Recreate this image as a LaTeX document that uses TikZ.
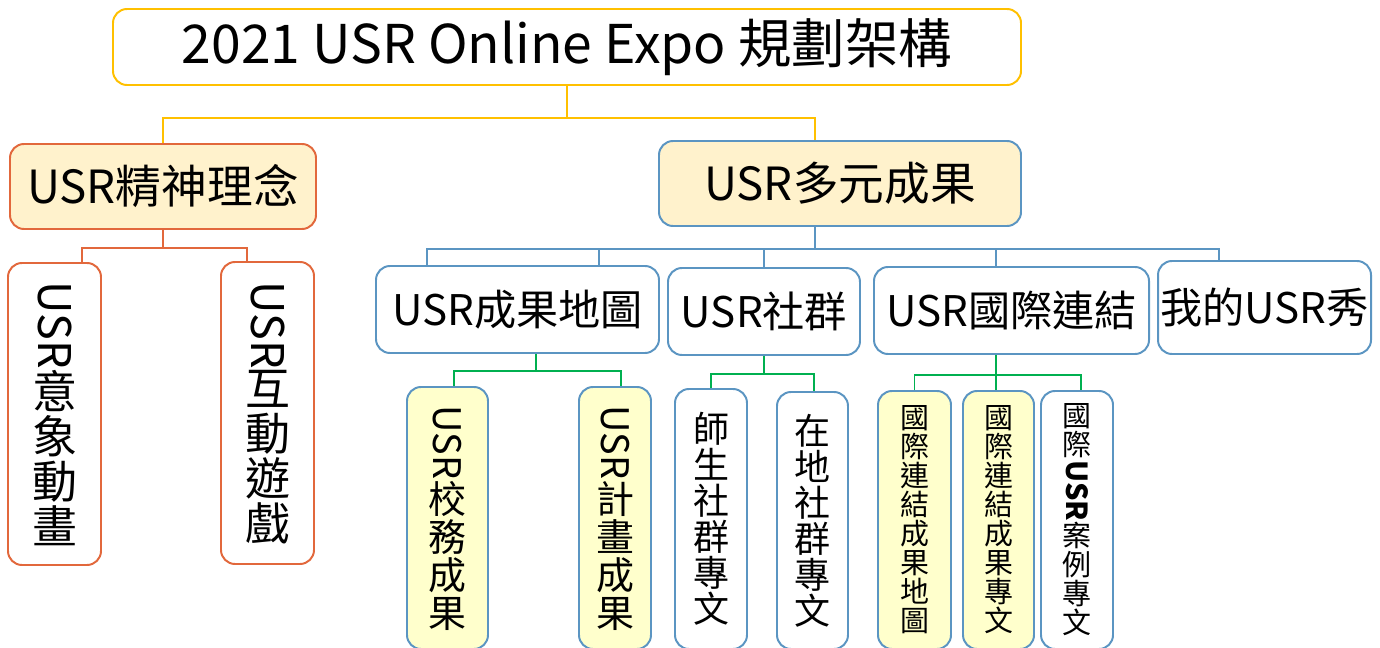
\documentclass[tikz,border=0pt]{standalone}
\usepackage{fontspec}
\setmainfont{Noto Sans CJK TC}
\usepackage{graphicx}
\usetikzlibrary{calc}
\definecolor{expoyellow}{HTML}{FFC000}
\definecolor{exporange}{HTML}{E2683C}
\definecolor{expoblue}{HTML}{5B95C2}
\definecolor{expogreen}{HTML}{00B050}
\definecolor{creamfill}{HTML}{FFF2CC}
\definecolor{palefill}{HTML}{FFFFCC}
\newcommand{\px}{0.025cm}
\newcommand{\vusr}[1][]{\raisebox{0.85em}{\rotatebox{-90}{#1USR}}}

\begin{document}
\begin{tikzpicture}[x=\px,y=-\px,
  every node/.style={inner sep=0pt,rounded corners=3.5mm,line width=1.4pt,align=center},
  sz/.style 2 args={minimum width=#1*\px,minimum height=#2*\px},
  fs/.style={font=\fontsize{#1}{#1}\selectfont},
  topbox/.style={draw=expoyellow,fill=white,fs=38},
  redbox/.style={draw=exporange,fill=white},
  bluebox/.style={draw=expoblue,fill=white},
  yline/.style={draw=expoyellow,line width=1.4pt},
  rline/.style={draw=exporange,line width=1.4pt},
  bline/.style={draw=expoblue,line width=1.4pt},
  gline/.style={draw=expogreen,line width=1.4pt}]
  \useasboundingbox (0,0) rectangle (1380,648);

  \node[topbox,sz={908}{76}] (title) at (567,47) {2021 USR Online Expo 規劃架構};

  \node[redbox,fill=creamfill,sz={306}{85},fs=32.5] (spirit) at (163,186.5) {USR精神理念};
  \node[bluebox,fill=creamfill,sz={362}{85},fs=32.5] (result) at (840,183.5) {USR多元成果};

  \node[redbox,sz={93}{302},fs=32] (anim) at (54.5,414) {\vusr\\意\\象\\動\\畫};
  \node[redbox,sz={93}{302},fs=32] (game) at (267.5,413) {\vusr\\互\\動\\遊\\戲};

  \node[bluebox,sz={283}{87},fs=30] (map) at (517.5,309.5) {USR成果地圖};
  \node[bluebox,sz={192}{87},fs=30] (community) at (764,311.5) {USR社群};
  \node[bluebox,sz={275}{87},fs=30] (intl) at (1011.5,310.5) {USR國際連結};
  \node[bluebox,sz={213}{93},fs=30] (show) at (1264.5,307.5) {我的USR秀};

  \node[bluebox,fill=palefill,sz={81}{262},fs=27] (campus) at (447.5,518) {\vusr\\校\\務\\成\\果};
  \node[bluebox,fill=palefill,sz={72}{262},fs=27] (plan) at (615,518) {\vusr\\計\\畫\\成\\果};
  \node[bluebox,sz={72}{260},fs=25.6] (teacher) at (711,519) {師\\生\\社\\群\\專\\文};
  \node[bluebox,sz={71}{257},fs=25.6] (local) at (812.5,520.5) {在\\地\\社\\群\\專\\文};
  \node[bluebox,fill=palefill,sz={73}{258},fs=20.6] (intlmap) at (914.5,520) {國\\際\\連\\結\\成\\果\\地\\圖};
  \node[bluebox,fill=palefill,sz={71}{258},fs=20.6] (intlart) at (998.5,520) {國\\際\\連\\結\\成\\果\\專\\文};
  \node[bluebox,sz={72}{258},fs=20.6] (case) at (1077,520) {國\\際\\\vusr[\bfseries]\\案\\例\\專\\文};

  % yellow level
  \draw[yline] (title.south) -- ++(0,32);
  \draw[yline] (spirit.north) |- ($(title.south)+(0,32)$) -| ($(result.north)+(-25,0)$);

  % red level
  \draw[rline] (spirit.south) -- ++(0,18);
  \draw[rline] ($(anim.north)+(27.5,0)$) |- ($(spirit.south)+(0,18)$) -| ($(game.north)+(-20.5,0)$);

  % blue level
  \draw[bline] ($(result.south)+(-25,0)$) -- ++(0,22);
  \draw[bline] ($(map.north)+(-90.5,0)$) |- ($(result.south)+(-25,22)$) -| ($(show.north)+(-45.5,0)$);
  \draw[bline] ($(map.north)+(81.5,0)$) |- ($(result.south)+(-25,22)$);
  \draw[bline] (community.north) |- ($(result.south)+(-25,22)$);
  \draw[bline] ($(intl.north)+(-15.5,0)$) |- ($(result.south)+(-25,22)$);

  % green level
  \draw[gline] ($(map.south)+(18.5,0)$) -- ++(0,17);
  \draw[gline] ($(campus.north)+(6.5,0)$) |- ($(map.south)+(18.5,17)$) -| ($(plan.north)+(6,0)$);
  \draw[gline] (community.south) -- ++(0,18);
  \draw[gline] (teacher.north) |- ($(community.south)+(0,18)$) -| ($(local.north)+(1.5,0)$);
  \draw[gline] ($(intl.south)+(-15.5,0)$) -- ($(intlart.north)+(-2.5,0)$);
  \draw[gline] (intlmap.north) |- ($(intl.south)+(-15.5,20)$) -| ($(case.north)+(4,0)$);
\end{tikzpicture}
\end{document}
